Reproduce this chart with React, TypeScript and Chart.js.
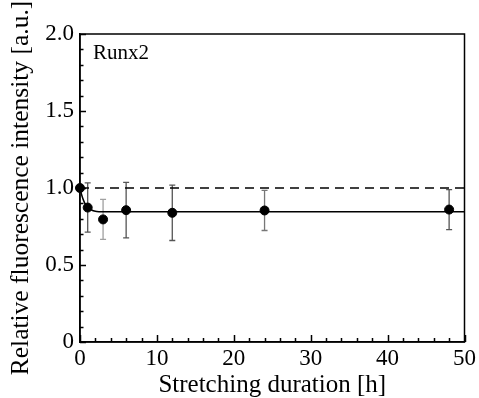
import React, { useEffect, useRef } from 'react';
import { Chart, registerables } from 'chart.js';

Chart.register(...registerables);

// ---- data ----
const timeH = [0, 1, 3, 6, 12, 24, 48];
const meanVal = [1.0, 0.873, 0.796, 0.856, 0.839, 0.854, 0.86];
const sdVal = [0, 0.16, 0.13, 0.18, 0.18, 0.13, 0.13];
const errColors = ['#000000', '#555555', '#a0a0a0', '#555555', '#555555', '#777777', '#555555'];

const fitT = [0, 0.25, 0.5, 0.75, 1, 1.5, 2, 2.5, 3, 50];
const fitY = [1.0, 0.95, 0.915, 0.89, 0.873, 0.857, 0.849, 0.846, 0.845, 0.845];

const refT = [0, 50];
const refY = [1.0, 1.0];

const xMajor = [0, 10, 20, 30, 40, 50];
const yMajor = [0, 0.5, 1.0, 1.5, 2.0];
const xMinorStep = 2;
const yMinorStep = 0.1;

const panelLabel = 'Runx2';
const xTitle = 'Stretching duration [h]';
const yTitle = 'Relative fluorescence intensity [a.u.]';

const FONT = "'Liberation Serif', 'Times New Roman', serif";

const framePlugin = {
  id: 'framePlugin',
  beforeDatasetsDraw(chart: any) {
    const { ctx, scales } = chart;
    const x = scales.x;
    const y = scales.y;
    ctx.save();
    ctx.lineWidth = 1.3;
    timeH.forEach((t, i) => {
      if (!sdVal[i]) return;
      const px = x.getPixelForValue(t);
      const top = y.getPixelForValue(meanVal[i] + sdVal[i]);
      const bot = y.getPixelForValue(meanVal[i] - sdVal[i]);
      ctx.strokeStyle = errColors[i];
      ctx.beginPath();
      ctx.moveTo(px, top);
      ctx.lineTo(px, bot);
      ctx.moveTo(px - 3, top);
      ctx.lineTo(px + 3, top);
      ctx.moveTo(px - 3, bot);
      ctx.lineTo(px + 3, bot);
      ctx.stroke();
    });
    ctx.restore();
  },
  afterDraw(chart: any) {
    const { ctx, chartArea: a, scales } = chart;
    const x = scales.x;
    const y = scales.y;
    ctx.save();
    ctx.strokeStyle = '#000';
    ctx.lineWidth = 1.5;
    ctx.strokeRect(a.left, a.top, a.right - a.left, a.bottom - a.top);
    ctx.beginPath();
    for (let v = 0; v <= 50 + 1e-9; v += xMinorStep) {
      const isMajor = xMajor.some((m) => Math.abs(m - v) < 1e-6);
      const px = Math.round(x.getPixelForValue(v)) + 0.5;
      const len = isMajor ? 7 : 4;
      ctx.moveTo(px, a.bottom);
      ctx.lineTo(px, a.bottom - len);
    }
    for (let k = 0; k <= 20; k++) {
      const v = k * yMinorStep;
      const isMajor = yMajor.some((m) => Math.abs(m - v) < 1e-6);
      const py = Math.round(y.getPixelForValue(v)) + 0.5;
      const len = isMajor ? 6 : 3.5;
      ctx.moveTo(a.left, py);
      ctx.lineTo(a.left + len, py);
    }
    ctx.stroke();
    ctx.fillStyle = '#000';
    ctx.font = `21px ${FONT}`;
    ctx.textAlign = 'left';
    ctx.textBaseline = 'alphabetic';
    ctx.fillText(panelLabel, a.left + 13, a.top + 25);
    ctx.restore();
  },
};

export default function App() {
  const ref = useRef<HTMLCanvasElement | null>(null);

  useEffect(() => {
    document.body.style.margin = '0';
    const canvas = ref.current;
    if (!canvas) return;
    const chart = new Chart(canvas, {
      type: 'scatter',
      data: {
        datasets: [
          {
            type: 'line',
            data: refT.map((t, i) => ({ x: t, y: refY[i] })),
            borderColor: '#000',
            borderWidth: 1.5,
            borderDash: [9, 6],
            pointRadius: 0,
            fill: false,
          },
          {
            type: 'line',
            data: fitT.map((t, i) => ({ x: t, y: fitY[i] })),
            borderColor: '#000',
            borderWidth: 1.5,
            pointRadius: 0,
            cubicInterpolationMode: 'monotone',
            fill: false,
          },
          {
            type: 'scatter',
            data: timeH.map((t, i) => ({ x: t, y: meanVal[i] })),
            backgroundColor: '#000',
            borderColor: '#000',
            pointRadius: 4.5,
            pointHoverRadius: 4.5,
            clip: false,
          },
        ],
      } as any,
      options: {
        responsive: false,
        animation: false,
        events: [],
        layout: { padding: { top: 34, right: 14, left: 0, bottom: 0 } },
        plugins: { legend: { display: false }, tooltip: { enabled: false } },
        scales: {
          x: {
            type: 'linear',
            min: 0,
            max: 50,
            afterFit: (s: any) => {
              s.height = 56;
            },
            afterBuildTicks: (s: any) => {
              s.ticks = xMajor.map((v) => ({ value: v }));
            },
            grid: { display: false, drawTicks: false },
            border: { display: true, color: '#000', width: 1.5 },
            ticks: {
              color: '#000',
              font: { family: FONT, size: 23 },
              padding: 3,
              maxRotation: 0,
              autoSkip: false,
            },
            title: {
              display: true,
              text: xTitle,
              color: '#000',
              font: { family: FONT, size: 25, lineHeight: 1 },
              padding: { top: 0, bottom: 0 },
            },
          },
          y: {
            type: 'linear',
            min: 0,
            max: 2,
            afterFit: (s: any) => {
              s.width = 80;
            },
            afterBuildTicks: (s: any) => {
              s.ticks = yMajor.map((v) => ({ value: v }));
            },
            grid: { display: false, drawTicks: false },
            border: { display: true, color: '#000', width: 1.5 },
            ticks: {
              color: '#000',
              font: { family: FONT, size: 23 },
              padding: 6,
              autoSkip: false,
              callback: (v: any) => (Number(v) === 0 ? '0' : Number(v).toFixed(1)),
            },
            title: {
              display: true,
              text: yTitle,
              color: '#000',
              font: { family: FONT, size: 25.5, lineHeight: 1 },
              padding: { top: 9, bottom: 0 },
            },
          },
        },
      } as any,
      plugins: [framePlugin],
    });
    return () => chart.destroy();
  }, []);

  return (
    <div style={{ width: 479, height: 398 }}>
      <canvas ref={ref} width={479} height={398} />
    </div>
  );
}
